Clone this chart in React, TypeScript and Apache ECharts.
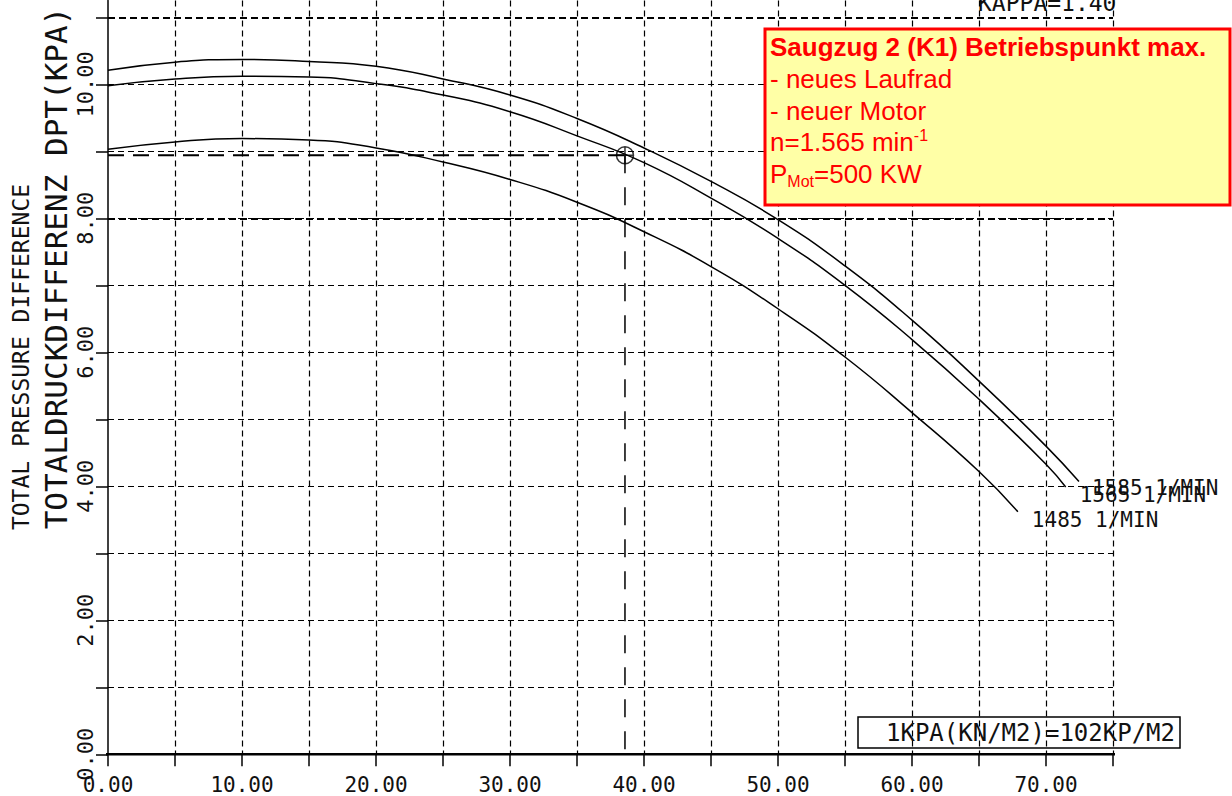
import React, { useEffect, useRef } from "react";
import * as echarts from "echarts";

// Fan curves: flow (x) vs total pressure difference DPT in kPa (y)
const CURVE_1585: [number, number][] = [
  [0, 10.21], [5, 10.33], [10, 10.37], [15, 10.34], [20, 10.27], [25, 10.08],
  [30, 9.84], [35, 9.49], [40, 9.05], [45, 8.55], [50, 7.98], [55, 7.29],
  [60, 6.48], [65, 5.57], [70, 4.6], [72.46, 4.07],
];
const CURVE_1565: [number, number][] = [
  [0, 9.98], [5, 10.08], [10, 10.12], [15, 10.11], [20, 10.01], [25, 9.84],
  [30, 9.59], [35, 9.23], [40, 8.83], [45, 8.3], [50, 7.7], [55, 7.0],
  [60, 6.19], [65, 5.3], [70, 4.33], [71.47, 3.99],
];
const CURVE_1485: [number, number][] = [
  [0, 9.03], [5, 9.14], [10, 9.19], [15, 9.17], [20, 9.05], [25, 8.84],
  [30, 8.58], [35, 8.24], [40, 7.8], [45, 7.28], [50, 6.65], [55, 5.93],
  [60, 5.1], [65, 4.22], [67.9, 3.62],
];
const CURVE_LABELS = ["1585 1/MIN", "1565 1/MIN", "1485 1/MIN"];
const OPERATING_POINT: [number, number] = [38.58, 8.94];

const X_MIN = 0;
const X_MAX = 75;
const X_INTERVAL = 5;
const X_LABEL_VALUES = [0, 10, 20, 30, 40, 50, 60, 70];
const X_AXIS_SPAN = [-1, 77.5];
const Y_MIN = 0;
const Y_MAX = 11.25;
const Y_INTERVAL = 1;
const Y_TICK_VALUES = [0, 1, 2, 3, 4, 5, 6, 7, 8, 9, 10, 11];
const Y_LABEL_VALUES = [0, 2, 4, 6, 8, 10];
const HEAVY_GRID_Y = [8, 11];

const Y_TITLE_EN = "TOTAL PRESSURE DIFFERENCE";
const Y_TITLE_DE = "TOTALDRUCKDIFFERENZ DPT(KPA)";
const KAPPA_TEXT = "KAPPA=1.40";
const UNIT_TEXT = "1KPA(KN/M2)=102KP/M2";
const INFO_TITLE = "Saugzug 2 (K1) Betriebspunkt max.";
const INFO_LINE_1 = "- neues Laufrad";
const INFO_LINE_2 = "- neuer Motor";
const INFO_SPEED = "n=1.565 min";
const INFO_SPEED_SUP = "-1";
const INFO_POWER_P = "P";
const INFO_POWER_SUB = "Mot";
const INFO_POWER_VAL = "=500 KW";

const MONO = '"DejaVu Sans Mono", "Liberation Mono", monospace';
const ARIAL = '"Liberation Sans", Arial, sans-serif';
const INK = "#111";
const RED = "#FF0000";

export default function App() {
  const ref = useRef<HTMLDivElement>(null);

  useEffect(() => {
    if (!ref.current) return;
    const chart = echarts.init(ref.current, undefined, { renderer: "svg" });

    const curveSeries = [CURVE_1585, CURVE_1565, CURVE_1485].map((d, i) => ({
      type: "line",
      data: d,
      smooth: 0.5,
      showSymbol: false,
      symbol: "none",
      lineStyle: { color: "#000", width: 1.5 },
      z: 5,
      endLabel: {
        show: true,
        formatter: CURVE_LABELS[i],
        distance: 0,
        offset: i === 0 ? [13, 6] : [14, 8],
        color: INK,
        fontFamily: MONO,
        fontSize: 21,
      },
    }));

    const option: any = {
      animation: false,
      backgroundColor: "#fff",
      grid: { left: 108, right: 119, top: 0.55, bottom: 41.7, containLabel: false },
      xAxis: {
        type: "value",
        min: X_MIN,
        max: X_MAX,
        interval: X_INTERVAL,
        axisLine: { show: false },
        axisTick: { show: true, length: 12, lineStyle: { color: "#000", width: 1.5 } },
        axisLabel: {
          margin: 20,
          color: INK,
          fontFamily: MONO,
          fontSize: 21,
          customValues: X_LABEL_VALUES,
          formatter: (v: number) => (X_LABEL_VALUES.includes(v) ? v.toFixed(2) : ""),
        },
        splitLine: {
          show: true,
          showMinLine: false,
          lineStyle: { color: "#000", width: 1.2, type: [6, 4] },
        },
      },
      yAxis: {
        type: "value",
        min: Y_MIN,
        max: Y_MAX,
        interval: Y_INTERVAL,
        axisLine: { show: true, lineStyle: { color: "#000", width: 1.5 } },
        axisTick: {
          show: true,
          length: 12,
          customValues: Y_TICK_VALUES,
          lineStyle: { color: "#000", width: 1.5 },
        },
        axisLabel: {
          rotate: 90,
          margin: 12,
          color: INK,
          fontFamily: MONO,
          fontSize: 22,
          customValues: Y_LABEL_VALUES,
          formatter: (v: number) => (Y_LABEL_VALUES.includes(v) ? v.toFixed(2) : ""),
        },
        splitLine: {
          show: true,
          showMinLine: false,
          showMaxLine: false,
          lineStyle: { color: "#000", width: 1.2, type: [6, 4] },
        },
      },
      series: [
        ...curveSeries,
        {
          // x-axis base line (extends slightly past the grid, as in the plot)
          type: "line",
          data: [[X_AXIS_SPAN[0], 0], [X_AXIS_SPAN[1], 0]],
          clip: false,
          showSymbol: false,
          symbol: "none",
          lineStyle: { color: "#000", width: 2.5 },
          z: 6,
          markLine: {
            silent: true,
            symbol: "none",
            label: { show: false },
            lineStyle: { color: "#000", width: 2, type: [7, 4] },
            data: HEAVY_GRID_Y.map((v) => ({ yAxis: v })),
          },
        },
        {
          type: "line",
          data: [[0, OPERATING_POINT[1]], OPERATING_POINT],
          showSymbol: false,
          symbol: "none",
          lineStyle: { color: "#000", width: 2, type: [16, 9] },
          z: 4,
        },
        {
          type: "line",
          data: [OPERATING_POINT, [OPERATING_POINT[0], 0]],
          showSymbol: false,
          symbol: "none",
          lineStyle: { color: "#000", width: 1.5, type: [18, 14] },
          z: 4,
        },
        {
          type: "scatter",
          data: [OPERATING_POINT],
          symbol: "path://M0,8A8,8,0,1,1,16,8A8,8,0,1,1,0,8ZM8,0L8,16M0,8L16,8",
          symbolSize: 17,
          itemStyle: { color: "transparent", borderColor: "#000", borderWidth: 1.5 },
          z: 7,
        },
      ],
      graphic: [
        {
          type: "text",
          x: 21,
          y: 357,
          rotation: Math.PI / 2,
          style: {
            text: Y_TITLE_EN,
            font: `23px ${MONO}`,
            fill: INK,
            align: "center",
            verticalAlign: "middle",
          },
        },
        {
          type: "text",
          x: 56,
          y: 268,
          rotation: Math.PI / 2,
          style: {
            text: Y_TITLE_DE,
            font: `31px ${MONO}`,
            fill: INK,
            align: "center",
            verticalAlign: "middle",
          },
        },
        {
          type: "text",
          x: 978,
          y: 3,
          style: { text: KAPPA_TEXT, font: `23px ${MONO}`, fill: INK, align: "left", verticalAlign: "middle" },
        },
        {
          type: "rect",
          z: 100,
          shape: { x: 765, y: 29, width: 465, height: 176 },
          style: { fill: "#FFFFA6", stroke: RED, lineWidth: 3 },
        },
        {
          type: "text",
          z: 101,
          x: 770,
          y: 47,
          style: { text: INFO_TITLE, font: `bold 26px ${ARIAL}`, fill: RED, align: "left", verticalAlign: "middle" },
        },
        {
          type: "text",
          z: 101,
          x: 770,
          y: 79,
          style: { text: INFO_LINE_1, font: `26px ${ARIAL}`, fill: RED, align: "left", verticalAlign: "middle" },
        },
        {
          type: "text",
          z: 101,
          x: 770,
          y: 111,
          style: { text: INFO_LINE_2, font: `26px ${ARIAL}`, fill: RED, align: "left", verticalAlign: "middle" },
        },
        {
          type: "text",
          z: 101,
          x: 770,
          y: 142,
          style: {
            text: `{a|${INFO_SPEED}}{s|${INFO_SPEED_SUP}}`,
            fill: RED,
            align: "left",
            verticalAlign: "middle",
            rich: {
              a: { fontFamily: ARIAL, fontSize: 26, fill: RED, lineHeight: 30 },
              s: { fontFamily: ARIAL, fontSize: 16, fill: RED, verticalAlign: "top", lineHeight: 16 },
            },
          },
        },
        {
          type: "text",
          z: 101,
          x: 770,
          y: 174,
          style: {
            text: `{a|${INFO_POWER_P}}{s|${INFO_POWER_SUB}}{a|${INFO_POWER_VAL}}`,
            fill: RED,
            align: "left",
            verticalAlign: "middle",
            rich: {
              a: { fontFamily: ARIAL, fontSize: 26, fill: RED, lineHeight: 30 },
              s: { fontFamily: ARIAL, fontSize: 16, fill: RED, verticalAlign: "bottom", lineHeight: 16 },
            },
          },
        },
        {
          type: "rect",
          z: 50,
          shape: { x: 858, y: 717, width: 322, height: 31 },
          style: { fill: "transparent", stroke: "#000", lineWidth: 1.5 },
        },
        {
          type: "text",
          z: 51,
          x: 886,
          y: 733,
          style: { text: UNIT_TEXT, font: `24px ${MONO}`, fill: INK, align: "left", verticalAlign: "middle" },
        },
      ],
    };

    chart.setOption(option);
    return () => chart.dispose();
  }, []);

  return (
    <div
      ref={ref}
      style={{ position: "fixed", left: 0, top: 0, width: 1232, height: 796, background: "#fff" }}
    />
  );
}
